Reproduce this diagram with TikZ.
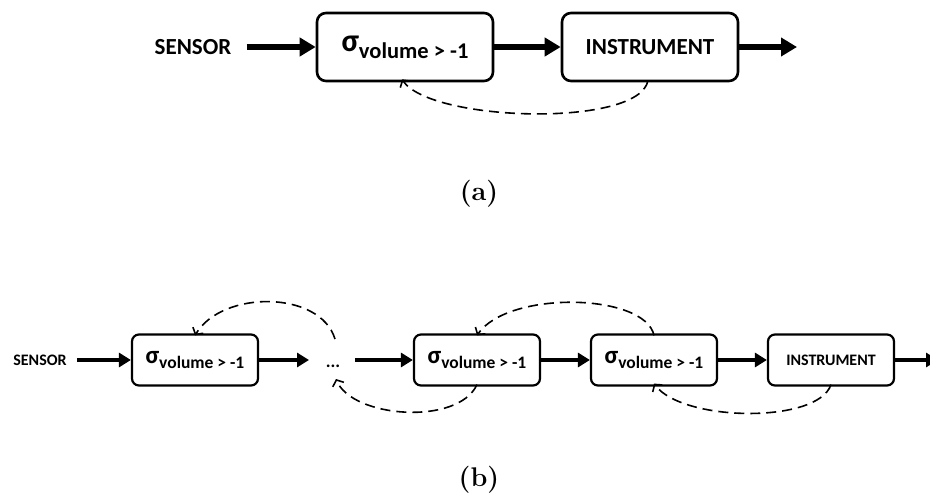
\documentclass[tikz,border=0pt]{standalone}
\usepackage{fontspec}
\newfontfamily\calib{Carlito}
\usetikzlibrary{arrows.meta}
\tikzset{
  bigbox/.style={draw, line width=2.6pt, rounded corners=9pt, minimum width=176pt, minimum height=68pt, inner sep=0pt, font=\calib\bfseries},
  smallbox/.style={draw, line width=2.2pt, rounded corners=7pt, minimum width=126pt, minimum height=51pt, inner sep=0pt, font=\calib\bfseries},
  bigflow/.style={line width=5.5pt, -{Triangle[length=16pt,width=18pt]}},
  smallflow/.style={line width=4.2pt, -{Triangle[length=12pt,width=14pt]}},
  fb/.style={line width=1.6pt, dash pattern=on 10pt off 6pt, -{Straight Barb[length=5pt,width=12pt]}},
  plain/.style={inner sep=0pt, font=\calib\bfseries},
  caption/.style={inner sep=0pt, font=\fontsize{27}{30}\selectfont\bfseries}
}
\newcommand{\sigbig}{{\fontsize{32}{34}\selectfont σ}\raisebox{-7pt}{\fontsize{22.5}{24}\selectfont volume > -1}}
\newcommand{\sigsmall}{{\fontsize{25}{27}\selectfont σ}\raisebox{-5.5pt}{\fontsize{17.5}{19}\selectfont volume > -1}}
\begin{document}
\begin{tikzpicture}[x=1pt, y=-1pt]
\useasboundingbox (0,0) rectangle (930,500);
% (a)
\node[plain, font=\calib\bfseries\fontsize{23}{25}\selectfont] (s1) at (193,47) {SENSOR};
\node[bigbox] (b1) at (405,47) {\sigbig};
\node[bigbox, font=\calib\bfseries\fontsize{23}{25}\selectfont] (b2) at (650,47) {INSTRUMENT};
\coordinate (o1) at (797,47);
\draw[bigflow] ([xshift=15pt]s1.east) -- (b1.west);
\draw[bigflow] (b1.east) -- (b2.west);
\draw[bigflow] (b2.east) -- (o1);
\draw[fb] ([xshift=-2pt,yshift=2pt]b2.south) .. controls (640,128) and (430,122) .. ([xshift=-3pt,yshift=3pt]b1.south);
\node[caption] (ca) at (479,194) {(a)};
% (b)
\node[plain, font=\calib\bfseries\fontsize{16}{18}\selectfont] (s2) at (40,360) {SENSOR};
\node[smallbox] (ba) at (195,360) {\sigsmall};
\node[plain, font=\calib\bfseries\fontsize{18}{20}\selectfont, anchor=base] (dots) at (333,367) {...};
\node[smallbox] (bb) at (477,360) {\sigsmall};
\node[smallbox] (bc) at (654,360) {\sigsmall};
\node[smallbox, font=\calib\bfseries\fontsize{16}{18}\selectfont] (bd) at (831,360) {INSTRUMENT};
\coordinate (o2) at (938,360);
\coordinate (dl) at (309,360);
\coordinate (dr) at (355,360);
\coordinate (dtop) at (335,339);
\coordinate (dbot) at (336,379);
\draw[smallflow] ([xshift=10pt]s2.east) -- (ba.west);
\draw[smallflow] (ba.east) -- (dl);
\draw[smallflow] (dr) -- (bb.west);
\draw[smallflow] (bb.east) -- (bc.west);
\draw[smallflow] (bc.east) -- (bd.west);
\draw[smallflow] (bd.east) -- (o2);
\draw[fb] (dtop) .. controls (320,290) and (222,290) .. ([yshift=-2pt]ba.north);
\draw[fb] ([yshift=2pt]bb.south) .. controls (458,426) and (352,418) .. (dbot);
\draw[fb] ([yshift=-2pt]bc.north) .. controls (645,293) and (508,290) .. ([yshift=-2pt]bb.north);
\draw[fb] ([yshift=2pt]bd.south) .. controls (818,424) and (682,422) .. ([yshift=3pt]bc.south);
\node[caption] (cb) at (479,480) {(b)};
\end{tikzpicture}
\end{document}
